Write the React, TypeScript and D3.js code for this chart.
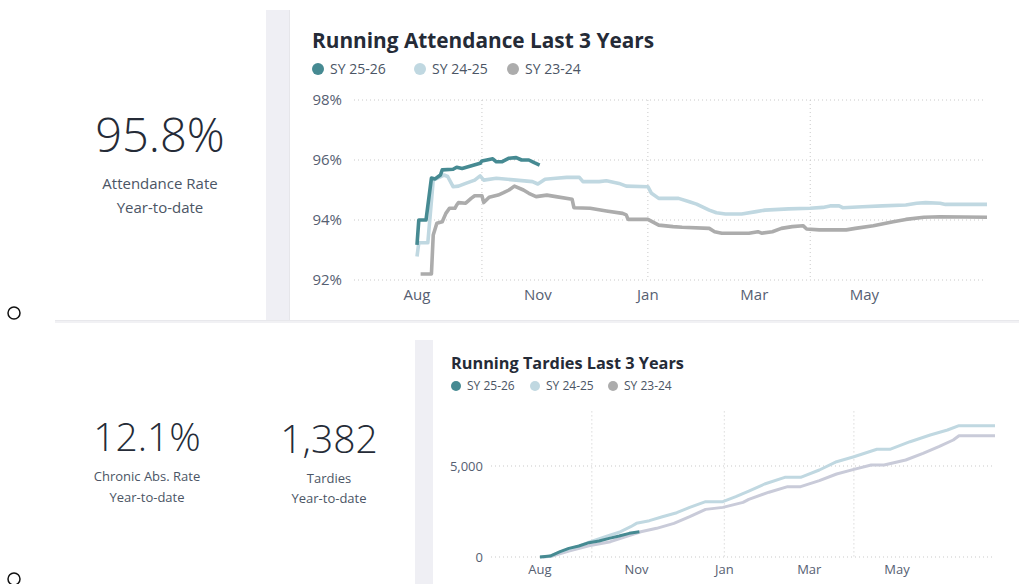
import React from 'react';
import * as d3 from 'd3';

// school-year dates written as MM-DD (Aug-Dec -> 2025, Jan-Jul -> 2026)
const seriesNames = ['SY 25-26', 'SY 24-25', 'SY 23-24'];

const attendance2526: [string, number][] = [
  ['08-26', 93.17], ['08-27', 94.0], ['08-31', 94.0], ['09-03', 95.4], ['09-05', 95.37],
  ['09-08', 95.5], ['09-09', 95.67], ['09-15', 95.69], ['09-17', 95.76], ['09-20', 95.72],
  ['09-30', 95.89], ['10-01', 95.97], ['10-07', 96.04], ['10-09', 95.94], ['10-12', 95.94],
  ['10-16', 96.06], ['10-20', 96.08], ['10-23', 96.0], ['10-27', 96.0], ['10-30', 95.91],
  ['11-02', 95.83],
];

const attendance2425: [string, number][] = [
  ['08-26', 92.78], ['08-27', 93.24], ['09-01', 93.24], ['09-04', 95.33], ['09-10', 95.5],
  ['09-12', 95.45], ['09-15', 95.11], ['09-18', 95.13], ['09-22', 95.22], ['09-27', 95.33],
  ['09-30', 95.47], ['10-02', 95.33], ['10-09', 95.39], ['10-20', 95.33], ['10-29', 95.28],
  ['11-01', 95.2], ['11-05', 95.36], ['11-11', 95.39], ['11-17', 95.42], ['11-24', 95.42],
  ['11-26', 95.28], ['12-05', 95.28], ['12-09', 95.31], ['12-16', 95.22], ['12-20', 95.13],
  ['01-01', 95.11], ['01-03', 94.89], ['01-07', 94.72], ['01-18', 94.72], ['01-24', 94.61],
  ['01-28', 94.53], ['02-04', 94.33], ['02-08', 94.24], ['02-13', 94.2], ['02-22', 94.2],
  ['03-02', 94.28], ['03-07', 94.33], ['03-20', 94.37], ['04-01', 94.39], ['04-08', 94.42],
  ['04-12', 94.47], ['04-17', 94.47], ['04-19', 94.41], ['04-30', 94.44], ['05-11', 94.47],
  ['05-24', 94.5], ['05-30', 94.56], ['06-04', 94.58], ['06-12', 94.56], ['06-15', 94.52],
  ['07-08', 94.52],
];

const attendance2324: [string, number][] = [
  ['08-28', 92.2], ['09-03', 92.2], ['09-04', 93.5], ['09-06', 93.89], ['09-09', 93.94],
  ['09-11', 94.22], ['09-13', 94.39], ['09-16', 94.39], ['09-17', 94.5], ['09-18', 94.58],
  ['09-22', 94.56], ['09-25', 94.72], ['09-27', 94.81], ['10-01', 94.81], ['10-02', 94.58],
  ['10-05', 94.76], ['10-10', 94.83], ['10-13', 94.91], ['10-16', 95.0], ['10-19', 95.13],
  ['10-24', 95.0], ['10-27', 94.89], ['10-31', 94.78], ['11-06', 94.83], ['11-11', 94.78],
  ['11-20', 94.69], ['11-21', 94.41], ['11-30', 94.39], ['12-09', 94.3], ['12-18', 94.22],
  ['12-20', 94.17], ['12-21', 94.02], ['01-01', 94.02], ['01-07', 93.83], ['01-15', 93.78],
  ['01-20', 93.76], ['02-04', 93.72], ['02-07', 93.61], ['02-11', 93.56], ['02-26', 93.56],
  ['03-03', 93.61], ['03-05', 93.56], ['03-11', 93.61], ['03-16', 93.72], ['03-22', 93.78],
  ['03-28', 93.81], ['03-30', 93.7], ['04-06', 93.67], ['04-21', 93.67], ['04-26', 93.72],
  ['05-06', 93.81], ['05-17', 93.94], ['05-24', 94.02], ['06-03', 94.09], ['06-12', 94.11],
  ['07-08', 94.09],
];

const tardies2526: [string, number][] = [
  ['08-26', 0], ['09-02', 50], ['09-09', 293], ['09-15', 476], ['09-22', 604],
  ['09-29', 787], ['10-06', 880], ['10-13', 1025], ['10-20', 1150], ['10-27', 1300],
  ['11-03', 1382],
];

const tardies2425: [string, number][] = [
  ['08-26', 0], ['09-02', 40], ['09-09', 280], ['09-22', 600], ['09-30', 841],
  ['10-14', 1209], ['10-21', 1390], ['10-28', 1665], ['11-01', 1850], ['11-10', 1995],
  ['11-19', 2214], ['11-29', 2434], ['12-08', 2727], ['12-19', 3038], ['12-31', 3038],
  ['01-09', 3313], ['01-18', 3620], ['01-29', 4011], ['02-12', 4379], ['02-23', 4379],
  ['03-08', 4780], ['03-20', 5237], ['04-01', 5511], ['04-17', 5918], ['04-26', 5918],
  ['05-10', 6335], ['05-24', 6703], ['06-05', 6978], ['06-13', 7214], ['07-08', 7214],
];

const tardies2324: [string, number][] = [
  ['08-28', 0], ['09-03', 40], ['09-15', 330], ['09-29', 620], ['10-14', 841],
  ['10-28', 1209], ['11-04', 1390], ['11-15', 1575], ['11-27', 1850], ['12-08', 2214],
  ['12-19', 2617], ['12-31', 2727], ['01-14', 3000], ['01-18', 3167], ['02-01', 3560],
  ['02-14', 3864], ['02-23', 3864], ['03-08', 4194], ['03-20', 4560], ['04-01', 4817],
  ['04-13', 5055], ['04-22', 5055], ['05-07', 5330], ['05-19', 5696], ['05-30', 6063],
  ['06-09', 6429], ['06-13', 6665], ['07-08', 6665],
];

const xTickDates = ['08-26', '11-01', '01-01', '03-01', '05-01'];
const xTickLabels = ['Aug', 'Nov', 'Jan', 'Mar', 'May'];
const xGridDates = ['10-01', '01-01', '04-01'];
const attendanceTicks = [92, 94, 96, 98];
const tardyTicks = [0, 5000];

const parseMD = (s: string) => {
  const [m, d] = s.split('-').map(Number);
  return new Date(m >= 8 ? 2025 : 2026, m - 1, d);
};

const FONT = '"Segoe UI", "Open Sans", sans-serif';
const DARK = '#252b37';
const MUTED = '#4b5565';
const AXIS = '#566072';
const GRID = '#c9c9c9';

type Series = { name: string; data: [string, number][]; color: string };

const LineChart = ({ series, x0, x1, y0, y1, yDomain, yTicks, yFmt, gridLeft, gridRight, labelRight, xLabelY, fontSize, strokeW }: any) => {
  const x = d3.scaleTime().domain([parseMD('08-26'), parseMD('07-08')]).range([x0, x1]);
  const y = d3.scaleLinear().domain(yDomain).range([y0, y1]);
  const line = d3.line<[string, number]>()
    .x(d => x(parseMD(d[0])))
    .y(d => y(d[1]))
    .curve(d3.curveLinear);

  return (
    <g>
      {yTicks.map((t: number) => (
        <g key={t}>
          <line x1={gridLeft} x2={gridRight} y1={y(t)} y2={y(t)} stroke={GRID} strokeDasharray="1 3" />
          <text x={labelRight} y={y(t)} dy="0.35em" textAnchor="end" fill={AXIS} fontSize={fontSize} fontFamily={FONT}>{yFmt(t)}</text>
        </g>
      ))}
      {xGridDates.map(dt => (
        <line key={dt} x1={x(parseMD(dt))} x2={x(parseMD(dt))} y1={y1} y2={y0} stroke={GRID} strokeDasharray="1 3" />
      ))}
      {xTickDates.map((dt, i) => (
        <text key={dt} x={x(parseMD(dt))} y={xLabelY} textAnchor="middle" fill={AXIS} fontSize={fontSize} fontFamily={FONT}>{xTickLabels[i]}</text>
      ))}
      {[...series].reverse().map((s: Series) => (
        <path key={s.name} d={line(s.data) || ''} fill="none" stroke={s.color} strokeWidth={strokeW} strokeLinejoin="round" />
      ))}
    </g>
  );
};

const Legend = ({ x, y, gaps, colors, fontSize, r }: any) => {
  let cx = x;
  return (
    <g>
      {seriesNames.map((n, i) => {
        const pos = cx;
        cx += gaps[i];
        return (
          <g key={n}>
            <circle cx={pos} cy={y} r={r} fill={colors[i]} />
            <text x={pos + r + 6} y={y} dy="0.35em" fill={MUTED} fontSize={fontSize} fontFamily={FONT}>{n}</text>
          </g>
        );
      })}
    </g>
  );
};

export default function App() {
  const teal = '#468a92';
  const lightBlue = '#c0d8e1';
  const gray = '#acacac';
  const lavender = '#c9cbd9';

  const attSeries: Series[] = [
    { name: seriesNames[0], data: attendance2526, color: teal },
    { name: seriesNames[1], data: attendance2425, color: lightBlue },
    { name: seriesNames[2], data: attendance2324, color: gray },
  ];
  const tardySeries: Series[] = [
    { name: seriesNames[0], data: tardies2526, color: teal },
    { name: seriesNames[1], data: tardies2425, color: lightBlue },
    { name: seriesNames[2], data: tardies2324, color: lavender },
  ];

  return (
    <svg width={1019} height={584} style={{ position: 'absolute', left: 0, top: 0, background: '#fff' }}>
      {/* panel separators */}
      <rect x={266} y={10} width={23} height={312} fill="#efeff4" />
      <line x1={289.5} x2={289.5} y1={10} y2={320} stroke="#e6e6ea" />
      <rect x={55} y={320} width={964} height={3} fill="#f1f1f4" />
      <line x1={55} x2={1019} y1={320.5} y2={320.5} stroke="#e8e8ec" />
      <rect x={415} y={340} width={18} height={250} fill="#efeff4" />

      <circle cx={14} cy={313} r={6} fill="#fff" stroke="#111" strokeWidth={1.5} />
      <circle cx={14} cy={579} r={6} fill="#fff" stroke="#111" strokeWidth={1.5} />

      {/* KPIs */}
      <g fontFamily={FONT} textAnchor="middle">
        <text x={160} y={152} fontSize={47} fontWeight={300} fill={DARK}>95.8%</text>
        <text x={160} y={189} fontSize={15} fill={MUTED}>Attendance Rate</text>
        <text x={160} y={213} fontSize={15} fill={MUTED}>Year-to-date</text>

        <text x={147} y={451} fontSize={39} fontWeight={300} fill={DARK}>12.1%</text>
        <text x={147} y={481} fontSize={13} fill={MUTED}>Chronic Abs. Rate</text>
        <text x={147} y={502} fontSize={13} fill={MUTED}>Year-to-date</text>

        <text x={329} y={453} fontSize={39} fontWeight={300} fill={DARK}>1,382</text>
        <text x={329} y={483} fontSize={13} fill={MUTED}>Tardies</text>
        <text x={329} y={503} fontSize={13} fill={MUTED}>Year-to-date</text>
      </g>

      {/* attendance chart */}
      <text x={312} y={48} fontFamily={FONT} fontSize={20.8} fontWeight={700} fill={DARK}>Running Attendance Last 3 Years</text>
      <Legend x={318} y={69} gaps={[102, 93]} colors={[teal, lightBlue, gray]} fontSize={14} r={6} />
      <LineChart
        series={attSeries} x0={417} x1={987} y0={280} y1={100}
        yDomain={[92, 98]} yTicks={attendanceTicks} yFmt={(t: number) => `${t}%`}
        gridLeft={354} gridRight={984} labelRight={342} xLabelY={300} fontSize={15} strokeW={3.6}
      />

      {/* tardies chart */}
      <text x={451} y={369} fontFamily={FONT} fontSize={16.3} fontWeight={700} fill={DARK}>Running Tardies Last 3 Years</text>
      <Legend x={456} y={386} gaps={[79, 78]} colors={[teal, lightBlue, gray]} fontSize={12} r={5} />
      <LineChart
        series={tardySeries} x0={540} x1={995} y0={557} y1={411.4}
        yDomain={[0, 8000]} yTicks={tardyTicks} yFmt={(t: number) => d3.format(',')(t)}
        gridLeft={491} gridRight={993} labelRight={483} xLabelY={574} fontSize={13} strokeW={3}
      />
    </svg>
  );
}
